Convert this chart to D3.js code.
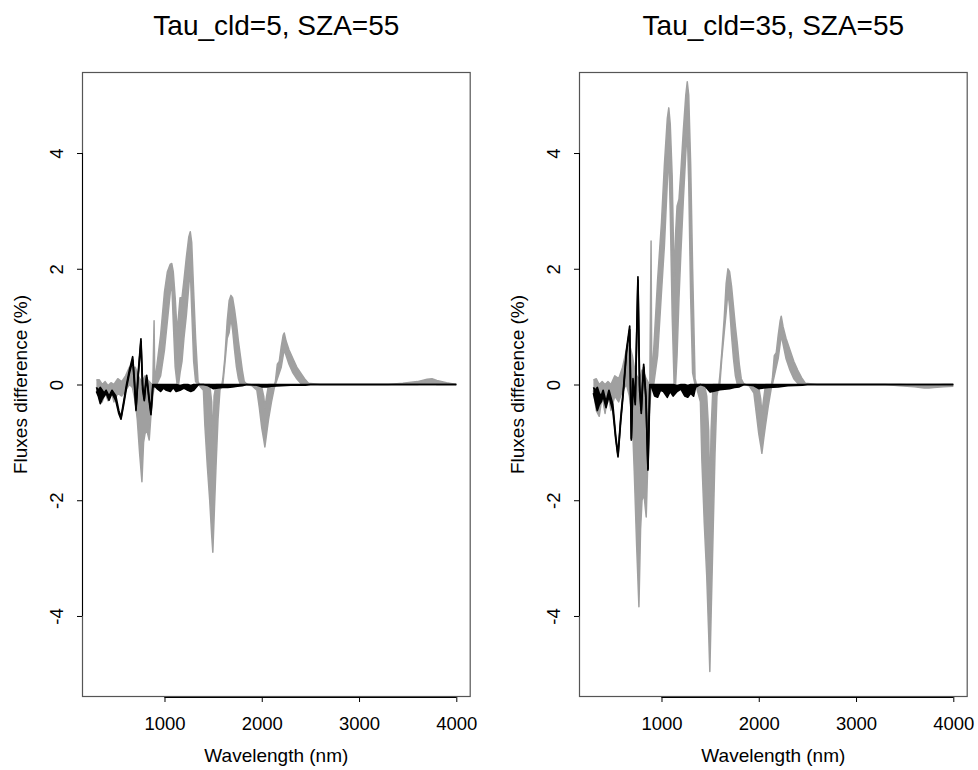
<!DOCTYPE html>
<html>
<head>
<meta charset="utf-8">
<script src="https://cdn.jsdelivr.net/npm/d3@7"></script>
<style>
  html, body { margin: 0; padding: 0; background: #fff; }
  svg { display: block; }
  text { font-family: "Liberation Sans", Arial, Helvetica, sans-serif; fill: #000; }
</style>
</head>
<body>
<svg id="chart" width="978" height="770"></svg>
<script>
// Panel titles and axis labels
const titles = ["Tau_cld=5, SZA=55", "Tau_cld=35, SZA=55"];
const xLabel = "Wavelength (nm)";
const yLabel = "Fluxes difference (%)";
const xTicks = [1000, 2000, 3000, 4000];
const yTicks = [-4, -2, 0, 2, 4];

// Ensemble of grey spectra: wavelength grid with upper / lower envelope (%)
const grayWl = [300,330,360,390,420,450,480,520,560,600,
  640,670,700,720,745,768,785,800,820,843,
  860,880,893,900,920,960,1000,1030,1060,1075,
  1090,1110,1130,1145,1160,1180,1200,1225,1250,1265,
  1280,1300,1320,1345,1360,1400,1415,1440,1465,1485,
  1497,1510,1530,1550,1570,1590,1600,1620,1645,1665,
  1683,1700,1720,1740,1760,1780,1800,1820,1850,1900,
  1950,1975,2000,2020,2032,2050,2070,2100,2130,2140,
  2160,2180,2200,2220,2231,2250,2280,2320,2360,2400,
  2440,2480,2600,3300,3450,3600,3700,3750,3800,3900,4000];

const grayHi5 = [0.08,0.08,0.0,0.05,-0.02,0.03,0.0,0.1,0.05,0.15,
  0.3,0.3,0.3,0.2,0.1,0.05,0.1,0.15,0.1,0.05,
  0.02,0.0,1.1,0.05,0.3,0.85,1.6,1.95,2.08,2.09,
  1.95,1.5,0.9,1.2,1.5,1.5,1.8,2.2,2.55,2.64,
  2.45,1.6,0.8,0.05,0.0,0.0,0.0,0.0,0.0,-0.3,
  -1.0,-0.2,0.0,0.0,0.0,0.0,0.1,0.45,1.1,1.45,
  1.54,1.5,1.3,1.05,0.75,0.5,0.25,0.05,0.0,0.0,
  0.0,0.0,-0.05,-0.2,-0.4,-0.2,0.0,0.0,0.0,0.05,
  0.35,0.4,0.65,0.85,0.89,0.75,0.6,0.45,0.3,0.2,
  0.1,0.02,0.0,0.0,0.02,0.05,0.09,0.1,0.07,0.03,0.0];
const grayLo5 = [-0.05,-0.25,-0.3,-0.15,-0.28,-0.1,-0.3,-0.15,-0.2,-0.1,
  0.0,-0.05,-0.3,-0.6,-1.2,-1.68,-1.0,-0.85,-0.8,-0.96,
  -0.55,-0.2,-0.05,0.0,0.0,0.15,0.6,1.1,1.6,1.75,
  1.1,0.3,0.0,0.0,0.2,0.4,0.8,1.2,1.7,2.0,
  1.3,0.4,0.05,0.0,-0.02,-0.1,-0.7,-1.4,-2.0,-2.6,
  -2.9,-2.3,-1.4,-0.6,-0.1,0.0,0.0,0.35,0.8,0.9,
  1.15,0.95,0.6,0.3,0.1,0.0,0.0,0.0,0.0,-0.02,
  -0.1,-0.4,-0.75,-0.95,-1.08,-0.85,-0.6,-0.3,-0.05,0.0,
  0.1,0.2,0.3,0.5,0.6,0.5,0.35,0.2,0.1,0.02,
  0.0,0.0,0.0,0.0,0.0,0.0,0.02,0.02,0.0,0.0,0.0];

const grayHi35 = [0.08,0.1,0.0,0.05,0.0,0.05,0.0,0.15,0.1,0.3,
  0.6,0.7,0.5,0.3,0.15,0.1,0.15,0.25,0.2,0.1,
  0.05,0.0,2.48,0.1,0.6,1.8,2.8,3.8,4.6,4.78,
  4.5,3.6,1.8,2.6,3.08,3.2,3.7,4.4,5.0,5.23,
  5.0,3.8,2.0,0.1,0.0,0.0,0.0,0.0,-0.2,-0.8,
  -2.0,-0.8,0.0,0.0,0.0,0.0,0.15,0.55,1.15,1.75,
  2.0,1.95,1.7,1.35,1.0,0.7,0.35,0.1,0.0,0.0,
  0.0,0.0,-0.05,-0.25,-0.5,-0.25,0.0,0.0,0.0,0.1,
  0.5,0.55,0.85,1.1,1.18,1.0,0.8,0.6,0.4,0.25,
  0.12,0.02,0.0,0.0,0.0,-0.01,-0.02,-0.02,-0.01,0.0,0.0];
const grayLo35 = [-0.1,-0.45,-0.55,-0.2,-0.5,-0.15,-0.45,-0.2,-0.3,-0.1,
  0.0,-0.2,-0.6,-1.5,-2.8,-3.84,-2.5,-2.0,-1.9,-2.29,
  -1.3,-0.4,-0.05,0.0,0.0,0.5,1.6,2.4,3.5,4.0,
  3.0,1.2,0.0,0.0,0.5,1.5,2.3,3.2,4.0,4.4,
  3.5,1.5,0.2,0.0,-0.05,-0.3,-1.3,-2.4,-3.3,-4.3,
  -4.96,-4.0,-2.6,-1.2,-0.2,0.0,0.0,0.45,0.9,1.25,
  1.6,1.35,0.85,0.45,0.15,0.0,0.0,0.0,0.0,-0.02,
  -0.15,-0.5,-0.85,-1.05,-1.19,-0.95,-0.7,-0.35,-0.05,0.0,
  0.15,0.3,0.45,0.7,0.85,0.7,0.45,0.25,0.1,0.02,
  0.0,0.0,0.0,0.0,-0.02,-0.04,-0.06,-0.06,-0.05,-0.04,-0.03];

// Black spectra: wavelength grid with upper / lower envelope (%)
const blackWl = [300,320,340,360,380,400,430,460,500,530,
  553,580,610,640,673,690,707,730,758,775,
  792,805,817,840,861,880,900,930,960,990,
  1020,1060,1090,1120,1160,1200,1240,1270,1300,1330,
  1350,1400,1450,1500,1550,1600,1650,1700,1750,1800,
  1850,1950,2000,2050,2100,2200,2300,2450,2500,4000];

const blackHi5 = [-0.05,-0.1,-0.05,-0.1,-0.15,-0.1,-0.2,-0.1,-0.2,-0.45,
  -0.57,-0.3,0.0,0.25,0.48,0.1,-0.42,0.2,0.79,0.0,
  -0.25,0.0,0.16,-0.2,-0.48,0.0,0.0,0.0,0.0,0.0,
  0.0,0.0,0.0,0.0,-0.02,0.0,0.0,-0.02,0.0,0.0,
  0,0,0,0,0,0,0,0,0,0,
  0,0,0,0,0,0,0,0,0,0];
const blackLo5 = [-0.12,-0.2,-0.33,-0.25,-0.2,-0.15,-0.27,-0.15,-0.28,-0.5,
  -0.6,-0.35,-0.05,0.2,0.42,0.04,-0.45,0.15,0.74,-0.08,
  -0.28,-0.05,0.12,-0.25,-0.52,-0.05,-0.03,-0.08,-0.12,-0.06,
  -0.1,-0.12,-0.05,-0.12,-0.1,-0.06,-0.1,-0.12,-0.1,-0.04,
  0.0,0.0,-0.02,-0.07,-0.06,-0.05,-0.05,-0.04,-0.03,-0.02,
  0.0,-0.01,-0.04,-0.04,-0.03,-0.02,-0.01,-0.01,0.0,0.0];

const blackHi35 = [-0.05,-0.1,-0.05,-0.15,-0.2,-0.1,-0.3,-0.1,-0.35,-0.9,
  -1.22,-0.6,-0.05,0.6,1.01,-0.93,0.1,-0.3,1.86,0.0,
  -0.45,0.0,0.35,-0.2,-1.45,0.0,0.0,0.0,0.0,0.0,
  0.0,0.0,0.0,0.0,-0.02,0.0,0.0,-0.02,0.0,0.0,
  0,0,0,0,0,0,0,0,0,0,
  0,0,0,0,0,0,0,0,0,0];
const blackLo35 = [-0.15,-0.3,-0.45,-0.35,-0.3,-0.2,-0.4,-0.2,-0.45,-0.95,
  -1.25,-0.65,-0.1,0.55,0.95,-0.96,0.05,-0.35,1.8,-0.1,
  -0.5,-0.05,0.3,-0.25,-1.48,-0.05,-0.05,-0.2,-0.22,-0.1,
  -0.12,-0.22,-0.12,-0.2,-0.12,-0.08,-0.2,-0.22,-0.15,-0.2,
  -0.05,0.0,-0.03,-0.13,-0.11,-0.09,-0.08,-0.07,-0.05,-0.04,
  0.0,-0.02,-0.07,-0.06,-0.05,-0.04,-0.02,-0.01,0.0,0.0];

const panels = [
  { title: titles[0], left: 82,  gHi: grayHi5,  gLo: grayLo5,  bHi: blackHi5,  bLo: blackLo5 },
  { title: titles[1], left: 579, gHi: grayHi35, gLo: grayLo35, bHi: blackHi35, bLo: blackLo35 }
];

const svg = d3.select("#chart");
const plotW = 388.7, plotTop = 72, plotBottom = 697;
const GREY = "#a0a0a0";

panels.forEach(p => {
  const x = d3.scaleLinear().domain([152, 4148]).range([p.left, p.left + plotW]);
  const y = d3.scaleLinear().domain([-5.4, 5.4]).range([plotBottom, plotTop]);
  const g = svg.append("g");

  const band = (wl, hi, lo, color, sw) => {
    const pts = wl.map((w, i) => ({ w, hi: hi[i], lo: lo[i] }));
    g.append("path").datum(pts)
      .attr("d", d3.area().x(d => x(d.w)).y0(d => y(d.lo)).y1(d => y(d.hi)))
      .attr("fill", color).attr("stroke", "none");
    ["hi", "lo"].forEach(k => {
      g.append("path").datum(pts)
        .attr("d", d3.line().x(d => x(d.w)).y(d => y(d[k])))
        .attr("fill", "none").attr("stroke", color)
        .attr("stroke-width", sw).attr("stroke-linejoin", "round");
    });
  };

  band(grayWl, p.gHi, p.gLo, GREY, 1.5);
  band(blackWl, p.bHi, p.bLo, "#000", 1.7);

  // plot frame
  g.append("rect")
    .attr("x", p.left + 0.5).attr("y", plotTop + 0.5)
    .attr("width", plotW - 1).attr("height", plotBottom - plotTop - 1)
    .attr("fill", "none").attr("stroke", "#555").attr("stroke-width", 1.2);

  // x axis
  const xAxis = d3.axisBottom(x).tickValues(xTicks).tickSize(5).tickPadding(0).tickFormat(d => String(d));
  const gx = g.append("g").attr("transform", `translate(0,${plotBottom})`).call(xAxis);
  gx.select(".domain").attr("d", `M${x(xTicks[0])},0.5H${x(xTicks[xTicks.length - 1])}`).attr("stroke", "#000");
  gx.selectAll(".tick line").attr("stroke", "#000");
  gx.selectAll(".tick text").attr("y", 33).attr("dy", null)
    .style("font-size", "18.5px").style("font-family", "'Liberation Sans', Arial, sans-serif").attr("fill", "#000");

  // y axis (labels rotated as in R's default las)
  const yAxis = d3.axisLeft(y).tickValues(yTicks).tickSize(5).tickFormat(d => String(d));
  const gy = g.append("g").attr("transform", `translate(${p.left},0)`).call(yAxis);
  gy.select(".domain").attr("d", `M0.5,${y(yTicks[0])}V${y(yTicks[yTicks.length - 1])}`).attr("stroke", "#000");
  gy.selectAll(".tick line").attr("stroke", "#000");
  gy.selectAll(".tick text")
    .attr("x", null).attr("dy", null)
    .attr("transform", "translate(-19,0) rotate(-90)")
    .attr("text-anchor", "middle").attr("y", 0)
    .style("font-size", "18.5px").style("font-family", "'Liberation Sans', Arial, sans-serif").attr("fill", "#000");

  // titles and axis labels
  g.append("text").attr("x", p.left + plotW / 2).attr("y", 35)
    .attr("text-anchor", "middle").style("font-size", "28px").text(p.title);
  g.append("text").attr("x", p.left + plotW / 2).attr("y", 762)
    .attr("text-anchor", "middle").style("font-size", "19px").text(xLabel);
  g.append("text")
    .attr("transform", `translate(${p.left - 55},${(plotTop + plotBottom) / 2}) rotate(-90)`)
    .attr("text-anchor", "middle").style("font-size", "19px").text(yLabel);
});
</script>
</body>
</html>
